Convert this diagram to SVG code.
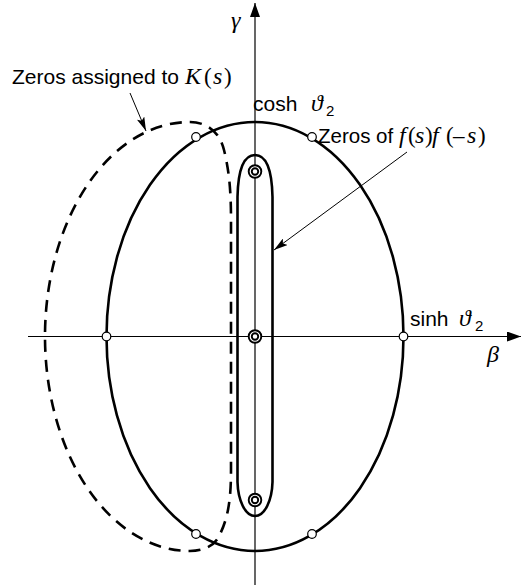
<svg xmlns="http://www.w3.org/2000/svg" width="522" height="588" viewBox="0 0 522 588">
<style>
.axis{stroke:#000;stroke-width:1.2;fill:none}
.thick{stroke:#000;stroke-width:2.6;fill:none}
.dash{stroke:#000;stroke-width:2.6;fill:none;stroke-dasharray:12 8}
.ptr{stroke:#000;stroke-width:1;fill:none}
.zero{fill:#fff;stroke:#000;stroke-width:1.2}
.dbl{fill:#fff;stroke:#000;stroke-width:1.9}
.sans{font-family:"Liberation Sans",Arial,sans-serif;font-size:21px;fill:#000}
.math{font-family:"Liberation Serif","Times New Roman",serif;font-style:italic;font-size:24px}
.up{font-family:"Liberation Serif","Times New Roman",serif;font-style:normal;font-size:23px}
.sub{font-family:"Liberation Sans",Arial,sans-serif;font-size:15px}
</style>
<defs>
<marker id="ah" viewBox="0 0 14 10" refX="14" refY="5" markerWidth="14" markerHeight="10" markerUnits="userSpaceOnUse" orient="auto">
<path d="M0,0 L14,5 L0,10 Z" fill="#000"/>
</marker>
<marker id="ap" viewBox="0 0 14 8" refX="14" refY="4" markerWidth="14" markerHeight="8" markerUnits="userSpaceOnUse" orient="auto">
<path d="M0,0 L14,4 L0,8 L3,4 Z" fill="#000"/>
</marker>
</defs>
<g id="axes">
<line class="axis" x1="255" y1="585" x2="255" y2="3" marker-end="url(#ah)"/>
<line class="axis" x1="28" y1="336.5" x2="521" y2="336.5" marker-end="url(#ah)"/>
</g>
<g id="ellipse">
<ellipse class="thick" cx="255" cy="336.5" rx="148.5" ry="214.5"/>
</g>
<g id="dashed-region">
<path class="dash" d="M190,122 C200,122 218,126 224,150 C229,170 231,190 231,220 L231,470 C231,500 228,520 218,538 C212,548 200,551 190,551 A145,214.5 0 0 1 190,122 Z"/>
</g>
<g id="pill">
<path class="thick" d="M255,155 C243,155 238,172 237.5,197 L237.5,482 C238,500 245,516 255,516 C265,516 272,500 272.5,482 L272.5,197 C272,172 267,155 255,155 Z"/>
</g>
<g id="double-zeros">
<circle class="dbl" cx="255" cy="171.5" r="6.3"/><circle class="dbl" cx="255" cy="171.5" r="3.2"/>
<circle class="dbl" cx="255" cy="336.5" r="6.3"/><circle class="dbl" cx="255" cy="336.5" r="3.2"/>
<circle class="dbl" cx="255" cy="500" r="6.3"/><circle class="dbl" cx="255" cy="500" r="3.2"/>
</g>
<g id="zeros">
<circle class="zero" cx="106.5" cy="336.5" r="4.3"/>
<circle class="zero" cx="403.5" cy="336.5" r="4.3"/>
<circle class="zero" cx="196" cy="137" r="4.3"/>
<circle class="zero" cx="312" cy="137" r="4.3"/>
<circle class="zero" cx="196" cy="534" r="4.3"/>
<circle class="zero" cx="312" cy="534" r="4.3"/>
</g>
<g id="connectors">
<line class="ptr" x1="130" y1="93" x2="146" y2="131" marker-end="url(#ap)"/>
<line class="ptr" x1="407" y1="152" x2="274" y2="250" marker-end="url(#ap)"/>
</g>
<g id="labels">
<text class="sans" x="12" y="84">Zeros assigned to<tspan class="math" x="185">K</tspan><tspan class="up" x="204">(</tspan><tspan class="math" x="213">s</tspan><tspan class="up" x="224">)</tspan></text>
<text class="sans" x="253" y="111">cosh<tspan class="math" x="311">ϑ</tspan><tspan class="sub" x="326" y="116">2</tspan></text>
<text class="sans" x="318" y="143" style="font-size:20.5px">Zeros of<tspan class="math" x="399">f</tspan><tspan class="up" x="408">(</tspan><tspan class="math" x="415">s</tspan><tspan class="up" x="425">)</tspan><tspan class="math" x="432">f</tspan><tspan class="up" x="446">(</tspan><tspan class="up" x="453">–</tspan><tspan class="math" x="467">s</tspan><tspan class="up" x="478">)</tspan></text>
<text class="sans" x="410" y="326">sinh<tspan class="math" x="459">ϑ</tspan><tspan class="sub" x="475" y="331">2</tspan></text>
<text class="math" x="487" y="362" fill="#000">β</text>
<text class="math" x="231" y="28" fill="#000">γ</text>
</g>
</svg>
